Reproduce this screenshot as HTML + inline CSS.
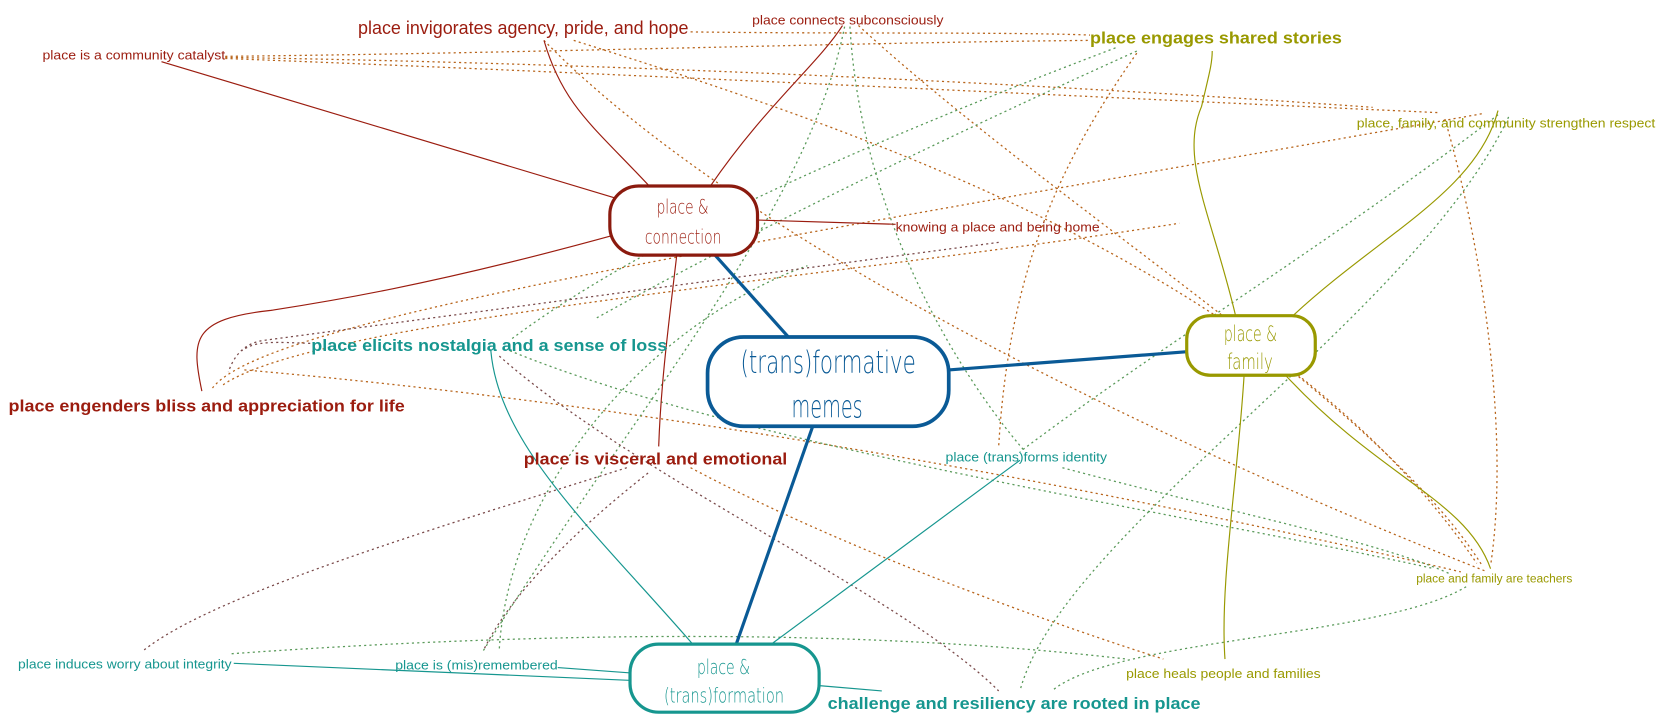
<!DOCTYPE html>
<html><head><meta charset="utf-8"><style>
html,body{margin:0;padding:0;background:#fff;}
svg{display:block;}
text{font-family:"Liberation Sans",sans-serif;}
.n{font-family:"DejaVu Sans","Liberation Sans",sans-serif;font-weight:200;}
</style></head><body>
<svg width="1668" height="726" viewBox="0 0 1570 683" preserveAspectRatio="none" xmlns="http://www.w3.org/2000/svg">
<g fill="none" stroke-width="1.2" stroke-dasharray="2 3">
<g stroke="#b8651c">
<path d="M212,53 C500,50 800,40 1026,38"/>
<path d="M212,55 C600,70 1000,90 1355,106"/>
<path d="M212,54 C600,60 1000,80 1292,101"/>
<path d="M650,30 C800,32 950,30 1026,33"/>
<path d="M512,38 C700,230 1100,420 1400,538"/>
<path d="M540,38 C800,120 1200,250 1390,530"/>
<path d="M808,24 C1000,200 1300,380 1395,532"/>
<path d="M200,365 C250,300 700,230 1395,107"/>
<path d="M210,362 C300,300 800,260 1110,210"/>
<path d="M230,348 C600,380 1000,450 1375,538"/>
<path d="M650,440 C800,520 1000,590 1095,620"/>
<path d="M1070,50 C1000,150 950,250 940,420"/>
<path d="M1360,112 C1400,250 1420,420 1403,532"/>
</g>
<g stroke="#5a9a5a">
<path d="M1050,45 C800,140 600,230 480,320"/>
<path d="M1070,48 C800,170 650,250 560,300"/>
<path d="M795,25 C760,200 600,380 455,612"/>
<path d="M800,25 C810,200 900,350 965,425"/>
<path d="M1410,108 C1250,230 1100,320 960,425"/>
<path d="M1420,110 C1330,300 1000,500 960,650"/>
<path d="M1380,552 C1300,600 1050,600 990,650"/>
<path d="M480,330 C700,420 1100,480 1350,535"/>
<path d="M218,615 C500,595 800,590 1060,620"/>
<path d="M1000,440 C1150,480 1300,510 1365,540"/>
<path d="M470,610 C480,450 620,300 760,250"/>
</g>
<g stroke="#7a4a4a">
<path d="M470,335 C600,450 850,560 940,650"/>
<path d="M590,440 C400,500 200,560 135,612"/>
<path d="M610,445 C540,500 480,560 455,612"/>
<path d="M940,228 C700,260 400,300 250,320 C230,322 220,335 215,350"/>
<path d="M292,323 C260,322 240,320 228,330"/>
</g>
</g>
<g fill="none" stroke-width="1.1">
<g stroke="#9b1c0f">
<path d="M612,176 C560,120 530,100 512,38"/>
<path d="M668,176 C720,100 770,60 793,24"/>
<path d="M578,186 L152,58"/>
<path d="M575,222 C400,270 300,285 255,292 C180,300 180,320 190,368"/>
<path d="M713,207 L843,211"/>
<path d="M637,240 C630,300 622,360 620,420"/>
</g>
<g stroke="#999900">
<path d="M1163,297 C1140,200 1110,150 1131,100 C1138,70 1141,60 1141,48"/>
<path d="M1217,297 C1300,220 1390,180 1410,104"/>
<path d="M1171,353 C1165,450 1148,550 1153,620"/>
<path d="M1210,353 C1300,450 1380,470 1403,535"/>
</g>
<g stroke="#16968f">
<path d="M652,606 C560,500 470,420 462,330"/>
<path d="M726,606 L960,433"/>
<path d="M220,624 L592,640"/>
<path d="M525,628 L592,633"/>
<path d="M771,645 L830,650"/>
</g>
</g>
<g stroke="#0a5a96" stroke-width="3" fill="none">
<path d="M673,240 L742,317"/>
<path d="M893,348 L1116,331"/>
<path d="M765,401 L693,606"/>
</g>
<rect x="574" y="175" width="139" height="65" rx="27" fill="#fff" stroke="#8b1a0e" stroke-width="3"/>
<text class="n" x="618" y="201" font-size="18" fill="#9b1c0f" textLength="49" lengthAdjust="spacingAndGlyphs">place &amp;</text>
<text class="n" x="607" y="229" font-size="18" fill="#9b1c0f" textLength="72" lengthAdjust="spacingAndGlyphs">connection</text>
<rect x="666" y="317" width="227" height="84" rx="34" fill="#fff" stroke="#0a5a96" stroke-width="3.5"/>
<text class="n" x="697" y="351" font-size="29" fill="#0a5a96" textLength="165" lengthAdjust="spacingAndGlyphs">(trans)formative</text>
<text class="n" x="745" y="393" font-size="29" fill="#0a5a96" textLength="67" lengthAdjust="spacingAndGlyphs">memes</text>
<rect x="1117" y="297" width="121" height="56" rx="22" fill="#fff" stroke="#999900" stroke-width="3"/>
<text class="n" x="1152" y="321" font-size="20" fill="#999900" textLength="50" lengthAdjust="spacingAndGlyphs">place &amp;</text>
<text class="n" x="1155" y="347" font-size="20" fill="#999900" textLength="43" lengthAdjust="spacingAndGlyphs">family</text>
<rect x="593" y="606" width="178" height="64" rx="27" fill="#fff" stroke="#16968f" stroke-width="3"/>
<text class="n" x="656" y="634" font-size="19" fill="#16968f" textLength="50" lengthAdjust="spacingAndGlyphs">place &amp;</text>
<text class="n" x="625" y="661" font-size="19" fill="#16968f" textLength="113" lengthAdjust="spacingAndGlyphs">(trans)formation</text>
<g fill="#9b1c0f">
<text x="337" y="32" font-size="17" textLength="311" lengthAdjust="spacingAndGlyphs">place invigorates agency, pride, and hope</text>
<text x="708" y="23" font-size="12.5" textLength="180" lengthAdjust="spacingAndGlyphs">place connects subconsciously</text>
<text x="40" y="56" font-size="12.5" textLength="172" lengthAdjust="spacingAndGlyphs">place is a community catalyst</text>
<text x="843" y="218" font-size="12.5" textLength="192" lengthAdjust="spacingAndGlyphs">knowing a place and being home</text>
<text x="8" y="387" font-size="16" font-weight="bold" textLength="373" lengthAdjust="spacingAndGlyphs">place engenders bliss and appreciation for life</text>
<text x="493" y="437" font-size="16" font-weight="bold" textLength="248" lengthAdjust="spacingAndGlyphs">place is visceral and emotional</text>
</g>
<g fill="#999900">
<text x="1026" y="41" font-size="16" font-weight="bold" textLength="237" lengthAdjust="spacingAndGlyphs">place engages shared stories</text>
<text x="1277" y="120" font-size="12.5" textLength="281" lengthAdjust="spacingAndGlyphs">place, family, and community strengthen respect</text>
<text x="1333" y="548" font-size="11" textLength="147" lengthAdjust="spacingAndGlyphs">place and family are teachers</text>
<text x="1060" y="638" font-size="12.5" textLength="183" lengthAdjust="spacingAndGlyphs">place heals people and families</text>
</g>
<g fill="#16968f">
<text x="293" y="330" font-size="16" font-weight="bold" textLength="335" lengthAdjust="spacingAndGlyphs">place elicits nostalgia and a sense of loss</text>
<text x="890" y="434" font-size="12.5" textLength="152" lengthAdjust="spacingAndGlyphs">place (trans)forms identity</text>
<text x="17" y="629" font-size="12.5" textLength="201" lengthAdjust="spacingAndGlyphs">place induces worry about integrity</text>
<text x="372" y="630" font-size="12.5" textLength="153" lengthAdjust="spacingAndGlyphs">place is (mis)remembered</text>
<text x="779" y="667" font-size="16" font-weight="bold" textLength="351" lengthAdjust="spacingAndGlyphs">challenge and resiliency are rooted in place</text>
</g>
</svg>
</body></html>
